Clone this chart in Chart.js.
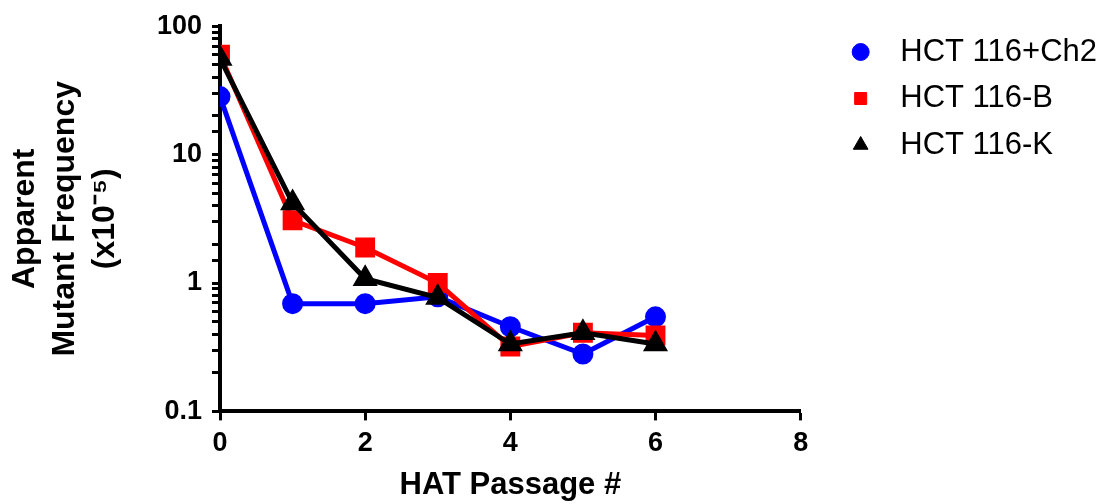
<!DOCTYPE html>
<html>
<head>
<meta charset="utf-8">
<script src="https://cdn.jsdelivr.net/npm/chart.js@4/dist/chart.umd.min.js"></script>
<style>
  html, body { margin: 0; padding: 0; background: #fff; }
  #wrap { width: 1107px; height: 504px; }
</style>
</head>
<body>
<div id="wrap"><canvas id="freqChart" width="1107" height="504"></canvas></div>
<script>
const passages = [0, 1, 2, 3, 4, 5, 6];
const seriesNames = ["HCT 116+Ch2", "HCT 116-B", "HCT 116-K"];
const ch2Values = [28.3, 0.69, 0.69, 0.78, 0.456, 0.28, 0.545];
const bValues = [60, 3.08, 1.89, 1.0, 0.32, 0.41, 0.39];
const kValues = [56, 4.19, 1.08, 0.77, 0.335, 0.41, 0.335];
const yTickLabels = [0.1, 1, 10, 100];

const font = "'Liberation Sans', Arial, sans-serif";

function toPoints(values) {
    return passages.map((p, i) => ({ x: p, y: values[i] }));
}

const freqChart = document.getElementById("freqChart");

new Chart(freqChart, {
    type: "line",
    data: {
        datasets: [
            {
                label: seriesNames[0],
                data: toPoints(ch2Values),
                borderColor: "#0000ff",
                backgroundColor: "#0000ff",
                borderWidth: 5,
                pointStyle: "circle",
                pointRadius: 8,
                tension: 0,
                order: 3,
            },
            {
                label: seriesNames[1],
                data: toPoints(bValues),
                borderColor: "#ff0000",
                backgroundColor: "#ff0000",
                borderWidth: 5,
                pointStyle: "rect",
                pointRadius: 10.5,
                tension: 0,
                order: 2,
            },
            {
                label: seriesNames[2],
                data: toPoints(kValues),
                borderColor: "#000000",
                backgroundColor: "#000000",
                borderWidth: 5,
                pointStyle: "triangle",
                pointRadius: 9.5,
                tension: 0,
                order: 1,
            },
        ],
    },
    options: {
        responsive: false,
        animation: false,
        layout: {
            padding: { left: 5, top: 21, right: 0, bottom: 0 },
        },
        scales: {
            x: {
                type: "linear",
                min: 0,
                max: 8,
                border: { color: "#000", width: 4 },
                grid: {
                    drawOnChartArea: false,
                    tickLength: 9,
                    tickWidth: 3,
                    tickColor: "#000",
                },
                ticks: {
                    stepSize: 2,
                    color: "#000",
                    padding: 7,
                    font: { family: font, size: 27, weight: "bold" },
                },
                title: {
                    display: true,
                    text: "HAT Passage #",
                    color: "#000",
                    padding: { top: 0, bottom: 0 },
                    font: { family: font, size: 31, weight: "bold" },
                },
            },
            y: {
                type: "logarithmic",
                min: 0.1,
                max: 100,
                border: { color: "#000", width: 4 },
                grid: {
                    drawOnChartArea: false,
                    tickLength: 8,
                    tickWidth: 3,
                    tickColor: "#000",
                },
                ticks: {
                    autoSkip: false,
                    color: "#000",
                    padding: 10,
                    font: { family: font, size: 27, weight: "bold" },
                    callback: function (value) {
                        const hit = yTickLabels.find((t) => Math.abs(t - value) < t * 1e-6);
                        return hit !== undefined ? String(hit) : "";
                    },
                },
                title: {
                    display: true,
                    text: ["Apparent", "Mutant Frequency", "(x10\u207B\u2075)"],
                    color: "#000",
                    padding: { top: 0, bottom: 30 },
                    font: { family: font, size: 32, weight: "bold", lineHeight: "40px" },
                },
                afterFit: function (scale) {
                    scale.width = 215;
                },
            },
            // empty right-hand axis, only keeps a gap between plot and legend
            gap: {
                type: "linear",
                position: "right",
                grid: { display: false, drawTicks: false },
                border: { display: false },
                ticks: { display: false },
                afterFit: function (scale) {
                    scale.width = 29;
                },
            },
        },
        plugins: {
            legend: {
                position: "right",
                align: "start",
                maxWidth: 400,
                labels: {
                    usePointStyle: true,
                    boxWidth: 31,
                    boxHeight: 12,
                    padding: 15.5,
                    color: "#000",
                    font: { family: font, size: 31 },
                    sort: (a, b) => a.datasetIndex - b.datasetIndex,
                    generateLabels: function (chart) {
                        const items = Chart.defaults.plugins.legend.labels.generateLabels(chart);
                        items.forEach((item) => {
                            item.text = " " + item.text;
                            item.lineWidth = 1;
                        });
                        return items;
                    },
                },
            },
            tooltip: { enabled: false },
        },
    },
});
</script>
</body>
</html>
